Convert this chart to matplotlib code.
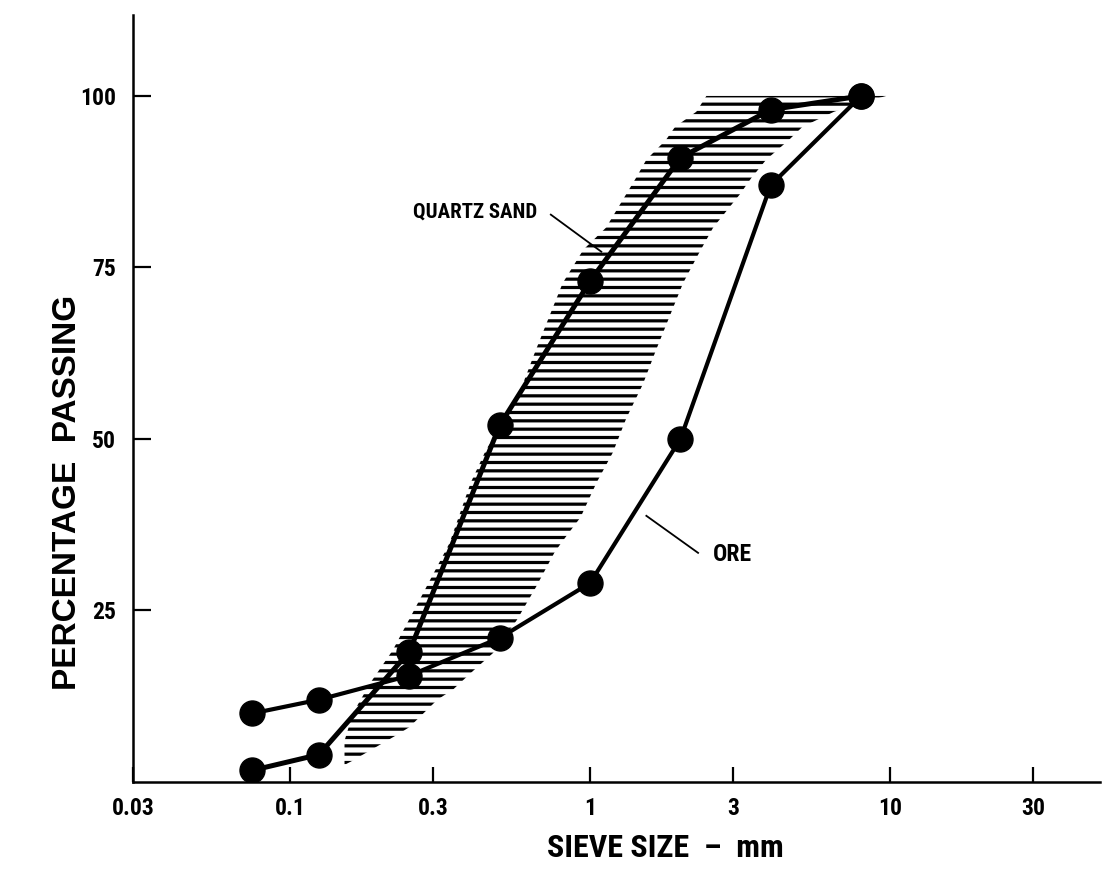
import matplotlib
matplotlib.use("Agg")
import matplotlib.pyplot as plt
from matplotlib import font_manager

# ---------------- data ----------------
sieve_mm = [0.075, 0.125, 0.25, 0.5, 1, 2, 4, 8]
quartz_pass = [1.7, 4, 19, 52, 73, 91, 98, 100]
ore_pass = [10, 12, 15.5, 21, 29, 50, 87, 100]

# hatched band (grading envelope)
band_left_x = [0.152, 0.152, 0.162, 0.185, 0.22, 0.27, 0.34, 0.40, 0.45, 0.57,
               0.66, 0.81, 0.95, 1.13, 1.32, 1.42, 1.54, 1.79, 1.92, 2.26, 2.44]
band_left_y = [2.5, 6, 10, 14.4, 19.2, 26.5, 34.8, 43.6, 48.4, 55.7,
               63, 72.7, 77.6, 80.8, 85.7, 88, 90.7, 93.6, 95.5, 97.7, 100]
band_right_x = [9.7, 8.0, 6.5, 5.1, 4.6, 3.86, 3.44, 3.16, 2.57, 2.3, 2.04,
                1.66, 1.5, 1.32, 1.19, 1.05, 0.93, 0.80, 0.76, 0.66, 0.57,
                0.475, 0.41, 0.35, 0.31, 0.25, 0.23, 0.16]
band_right_y = [100, 99, 97.7, 95.5, 93.6, 90.7, 88, 85.7, 80.8, 77, 72.7,
                63, 58, 53, 48, 43.6, 38.6, 34.8, 33.4, 28.4, 23.6,
                18.8, 16.3, 13.5, 12, 8, 7, 3]

x_ticks = [0.03, 0.1, 0.3, 1, 3, 10, 30]
x_tick_labels = ["0.03", "0.1", "0.3", "1", "3", "10", "30"]
y_ticks = [25, 50, 75, 100]
y_tick_labels = ["25", "50", "75", "100"]

# ---------------- fonts ----------------
entries = font_manager.fontManager.ttflist
names = {f.name for f in entries}
narrow_props = None
for cand in ["Liberation Sans Narrow", "Roboto Condensed", "Open Sans Condensed",
             "Noto Sans Condensed", "DejaVu Sans Condensed"]:
    if cand in names:
        narrow_props = dict(family=[cand, "DejaVu Sans"])
        break
if narrow_props is None:
    for f in entries:
        if f.name in ("DejaVu Sans", "Noto Sans", "Open Sans", "Roboto") and \
                str(f.stretch) in ("condensed", "semi-condensed", "extra-condensed"):
            narrow_props = dict(family=[f.name, "DejaVu Sans"], fontstretch=f.stretch)
            break
if narrow_props is None:
    for n in sorted(names):
        if "Condensed" in n or "Narrow" in n:
            narrow_props = dict(family=[n, "DejaVu Sans"])
            break
if narrow_props is None:
    fam = "Liberation Sans" if "Liberation Sans" in names else "DejaVu Sans"
    narrow_props = dict(family=[fam, "DejaVu Sans"])

wide_fam = ["Liberation Sans", "DejaVu Sans"]

# ---------------- figure ----------------
W, H = 1109, 890
fig = plt.figure(figsize=(W / 100, H / 100), dpi=100)
ax = fig.add_axes([133 / W, 108 / H, 967 / W, 767 / H])
ax.set_xscale("log")
ax.set_xlim(0.03, 50)
ax.set_ylim(0, 111.8)

plt.rcParams["hatch.linewidth"] = 2.3
band_x = band_left_x + band_right_x
band_y = band_left_y + band_right_y
ax.fill(band_x, band_y, facecolor="none", edgecolor="black", linewidth=0,
        hatch="--", zorder=1)

ax.plot(sieve_mm, quartz_pass, color="black", lw=3.6, marker="o",
        markersize=18, markerfacecolor="black", zorder=3)
ax.plot(sieve_mm, ore_pass, color="black", lw=3.0, marker="o",
        markersize=18, markerfacecolor="black", zorder=3)

# annotations
ax.text(0.415, 83.1, "QUARTZ SAND", ha="center", va="center",
        fontweight="bold", fontsize=15, **narrow_props)
ax.plot([0.74, 1.09], [82.7, 77.3], color="black", lw=1.3, zorder=2)
ax.text(2.98, 33.1, "ORE", ha="center", va="center",
        fontweight="bold", fontsize=17, **narrow_props)
ax.plot([1.54, 2.29], [38.8, 33.4], color="black", lw=1.3, zorder=2)

# axes styling
for s in ["top", "right"]:
    ax.spines[s].set_visible(False)
for s in ["left", "bottom"]:
    ax.spines[s].set_linewidth(1.8)

ax.set_xticks(x_ticks)
ax.set_xticklabels(x_tick_labels, fontweight="bold", fontsize=17, **narrow_props)
ax.xaxis.set_minor_locator(matplotlib.ticker.NullLocator())
ax.set_yticks(y_ticks)
ax.set_yticklabels(y_tick_labels, fontweight="bold", fontsize=17, **narrow_props)
ax.tick_params(axis="x", direction="in", length=11, width=1.6, pad=11)
ax.tick_params(axis="y", direction="in", length=13, width=1.6, pad=12)

fig.text(665 / W, 1 - 848 / H, "SIEVE SIZE  –  mm", ha="center", va="center",
         fontweight="bold", fontsize=23, **narrow_props)
fig.text(68 / W, 1 - 492 / H, "PERCENTAGE  PASSING", ha="center", va="center",
         rotation=90, family=wide_fam, fontweight="bold", fontsize=24)

fig.savefig("out.png", dpi=100)
